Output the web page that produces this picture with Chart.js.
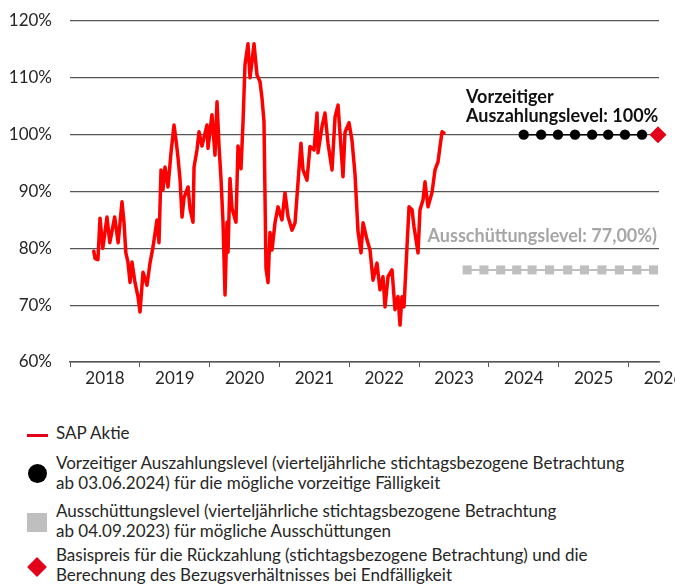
<!DOCTYPE html>
<html>
<head>
<meta charset="utf-8">
<script src="https://cdn.jsdelivr.net/npm/chart.js@4.4.1/dist/chart.umd.min.js"></script>
<style>
  html, body { margin: 0; padding: 0; background: #fff; }
  #wrap { position: relative; width: 675px; height: 586px; overflow: hidden; font-family: Lato, "Open Sans", sans-serif; color: #262626; }
  #chartBox { position: absolute; left: 0; top: 0; width: 675px; height: 400px; }
  .ann { position: absolute; font-weight: bold; font-size: 18px; line-height: 19px; white-space: nowrap; }
  .leg { position: absolute; left: 56px; font-size: 17px; line-height: 20px; white-space: nowrap; color: #262626; }
  .mk { position: absolute; }
</style>
</head>
<body>
<div id="wrap">
  <div id="chartBox"><canvas id="c" width="675" height="400"></canvas></div>
  <div class="ann" style="left:466px; top:87px; color:#111;">Vorzeitiger<br>Auszahlungslevel: 100%</div>
  <div class="ann" style="right:18px; top:226px; color:#a6a6a6;">Ausschüttungslevel: 77,00%)</div>

  <div class="mk" style="left:27px; top:434px; width:21px; height:3px; background:#e2001a;"></div>
  <div class="leg" style="top:423px;">SAP Aktie</div>

  <div class="mk" style="left:27.5px; top:463.5px; width:19px; height:19px; border-radius:50%; background:#000;"></div>
  <div class="leg" style="top:453px;">Vorzeitiger Auszahlungslevel (vierteljährliche stichtagsbezogene Betrachtung<br>ab 03.06.2024) für die mögliche vorzeitige Fälligkeit</div>

  <div class="mk" style="left:27px; top:513px; width:20px; height:19px; background:#bfbfbf;"></div>
  <div class="leg" style="top:501px;">Ausschüttungslevel (vierteljährliche stichtagsbezogene Betrachtung<br>ab 04.09.2023) für mögliche Ausschüttungen</div>

  <div class="mk" style="left:30px; top:560px; width:14px; height:14px; background:#e2001a; transform:rotate(45deg);"></div>
  <div class="leg" style="top:545px;">Basispreis für die Rückzahlung (stichtagsbezogene Betrachtung) und die<br>Berechnung des Bezugsverhältnisses bei Endfälligkeit</div>
</div>
<script>
// ---- data (x = decimal year, y = % of start level) ----
const yearTicks = [2018, 2019, 2020, 2021, 2022, 2023, 2024, 2025, 2026];
const yTicks = [60, 70, 80, 90, 100, 110, 120];

const sapYears = [
  2018.34, 2018.36, 2018.40, 2018.43, 2018.47, 2018.53, 2018.57, 2018.64, 2018.69, 2018.745,
  2018.774, 2018.80, 2018.83, 2018.86, 2018.888, 2018.931, 2018.974, 2019.003, 2019.046, 2019.103,
  2019.146, 2019.189, 2019.246, 2019.275, 2019.304, 2019.332, 2019.361, 2019.404, 2019.447, 2019.490,
  2019.519, 2019.547, 2019.576, 2019.605, 2019.633, 2019.691, 2019.719, 2019.762, 2019.777, 2019.819,
  2019.848, 2019.891, 2019.963, 2019.977, 2020.034, 2020.077, 2020.106, 2020.135, 2020.163, 2020.192,
  2020.221, 2020.249, 2020.264, 2020.292, 2020.321, 2020.378, 2020.407, 2020.450, 2020.479, 2020.507,
  2020.550, 2020.579, 2020.607, 2020.636, 2020.679, 2020.722, 2020.751, 2020.779, 2020.808, 2020.837,
  2020.865, 2020.894, 2020.937, 2020.980, 2021.037, 2021.080, 2021.123, 2021.181, 2021.224, 2021.266,
  2021.309, 2021.338, 2021.395, 2021.438, 2021.496, 2021.539, 2021.553, 2021.610, 2021.653, 2021.696,
  2021.754, 2021.797, 2021.840, 2021.911, 2021.940, 2021.997, 2022.040, 2022.083, 2022.126, 2022.169,
  2022.198, 2022.255, 2022.298, 2022.341, 2022.398, 2022.441, 2022.484, 2022.513, 2022.556, 2022.613,
  2022.656, 2022.699, 2022.728, 2022.756, 2022.785, 2022.828, 2022.857, 2022.900, 2022.928, 2022.986,
  2023.014, 2023.057, 2023.086, 2023.129, 2023.186, 2023.229, 2023.272, 2023.301, 2023.330, 2023.358
];
const sapValues = [
  79.5, 78.2, 78.0, 85.3, 80.0, 85.5, 81.0, 85.5, 81.0, 88.2,
  84.5, 79.2, 77.6, 74.0, 77.6, 74.0, 71.5, 68.8, 75.8, 73.5,
  77.4, 80.2, 85.0, 81.0, 93.8, 90.3, 94.3, 90.8, 96.8, 101.7,
  99.0, 96.0, 92.2, 85.5, 88.9, 90.8, 87.0, 84.6, 94.3, 97.3,
  100.5, 98.0, 101.7, 97.6, 103.5, 96.4, 105.8, 98.0, 92.3, 84.6,
  71.8, 84.6, 79.3, 92.3, 87.0, 84.6, 98.0, 94.0, 102.3, 112.3,
  116.0, 110.0, 112.8, 116.0, 110.5, 109.3, 106.4, 102.3, 76.5, 74.0,
  82.8, 79.7, 84.5, 87.3, 85.0, 89.8, 85.6, 83.2, 84.5, 91.5,
  98.5, 93.8, 92.0, 97.9, 97.3, 103.8, 96.8, 101.4, 103.8, 98.5,
  93.8, 103.1, 105.2, 92.6, 100.4, 102.1, 99.0, 93.0, 83.0, 79.2,
  84.5, 81.5, 79.7, 74.4, 77.4, 72.7, 75.0, 69.7, 75.0, 76.2,
  69.2, 71.5, 66.5, 71.5, 69.7, 80.3, 87.3, 86.8, 83.8, 79.2,
  86.8, 88.5, 91.7, 87.3, 89.8, 93.8, 95.2, 97.9, 100.5, 100.3
];

const earlyYears = [2024.50, 2024.75, 2024.99, 2025.235, 2025.48, 2025.71, 2025.95, 2026.195];
const earlyLevel = 100;
const finalYear = 2026.424;
const finalLevel = 100;
const couponYears = [2023.69, 2023.93, 2024.17, 2024.40, 2024.62, 2024.87, 2025.13, 2025.37, 2025.62, 2025.87, 2026.12, 2026.36];
const couponLevel = 76.2;

// ---- build ----
const toPts = (xs, ys) => xs.map((x, i) => ({ x: x, y: Array.isArray(ys) ? ys[i] : ys }));

Chart.defaults.font.family = 'Lato, "Open Sans", sans-serif';
Chart.defaults.font.size = 17;
Chart.defaults.color = '#262626';

new Chart(document.getElementById('c'), {
  type: 'line',
  data: {
    datasets: [
      { label: 'Ausschüttungslevel', data: toPts(couponYears, couponLevel), borderColor: '#bfbfbf', backgroundColor: '#bfbfbf',
        borderWidth: 2, pointStyle: 'rect', pointRadius: 6.4, pointBorderWidth: 0, clip: false },
      { label: 'Vorzeitiger Auszahlungslevel', data: toPts(earlyYears, earlyLevel), borderColor: '#000', backgroundColor: '#000',
        borderWidth: 1.5, pointStyle: 'circle', pointRadius: 5.2, pointBorderWidth: 0, clip: false },
      { label: 'Basispreis', data: [{ x: finalYear, y: finalLevel }], borderColor: '#e2001a', backgroundColor: '#e2001a',
        pointStyle: 'rectRot', pointRadius: 8.5, pointBorderWidth: 0, clip: false },
      { label: 'SAP Aktie', data: toPts(sapYears, sapValues), borderColor: '#ff0000', borderWidth: 3.5,
        pointRadius: 0, tension: 0, borderJoinStyle: 'round', borderCapStyle: 'round' }
    ]
  },
  options: {
    responsive: false,
    animation: false,
    layout: { padding: { left: 0, right: 16, top: 21, bottom: 0 } },
    plugins: { legend: { display: false }, tooltip: { enabled: false } },
    scales: {
      x: {
        type: 'linear',
        min: 2018,
        max: 2026.438,
        afterBuildTicks: s => { s.ticks = yearTicks.map(v => ({ value: v })); },
        afterFit: s => { s.height = 38; s.paddingLeft = 0; s.paddingRight = 0; },
        ticks: { callback: v => String(v), labelOffset: 35, padding: 1, maxRotation: 0, autoSkip: false, color: '#262626' },
        grid: { drawOnChartArea: false, drawTicks: true, tickLength: 5, color: '#555', lineWidth: 1 },
        border: { display: true, color: '#555', width: 1.5 }
      },
      y: {
        min: 60,
        max: 120,
        afterBuildTicks: s => { s.ticks = yTicks.map(v => ({ value: v })); },
        afterFit: s => { s.width = 70; s.paddingTop = 0; s.paddingBottom = 0; },
        ticks: { callback: v => v + '%', padding: 18, color: '#262626' },
        grid: { drawTicks: false, color: '#555', lineWidth: 1.2 },
        border: { display: false }
      }
    }
  }
});
</script>
</body>
</html>
